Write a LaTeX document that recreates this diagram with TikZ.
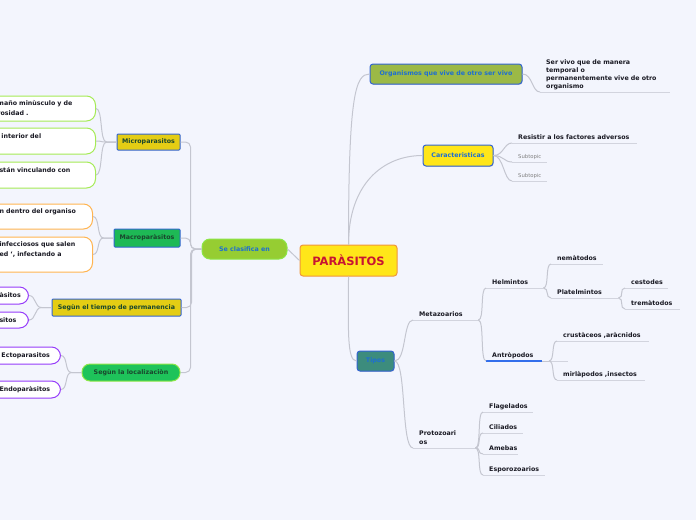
\documentclass[tikz,border=0pt]{standalone}
\usepackage{fontspec}
\setmainfont{DejaVu Sans}
\usetikzlibrary{positioning,shadows}
\definecolor{paper}{RGB}{243,245,253}
\definecolor{linegrey}{RGB}{196,198,208}
\definecolor{ulgrey}{RGB}{210,212,222}
\definecolor{rootyellow}{RGB}{255,230,25}
\definecolor{rootorange}{RGB}{240,150,60}
\definecolor{rootred}{RGB}{200,20,50}
\definecolor{edgeblue}{RGB}{50,100,210}
\definecolor{labelblue}{RGB}{30,110,210}
\definecolor{orggreen}{RGB}{155,185,70}
\definecolor{mustard}{RGB}{228,205,20}
\definecolor{macgreen}{RGB}{30,185,85}
\definecolor{locgreen}{RGB}{30,195,90}
\definecolor{limegreen}{RGB}{150,205,50}
\definecolor{brightlime}{RGB}{140,230,70}
\definecolor{tealtipo}{RGB}{60,140,125}
\definecolor{darkleaf}{RGB}{25,70,45}
\definecolor{inkdark}{RGB}{25,25,35}
\definecolor{leafgreen}{RGB}{165,235,85}
\definecolor{leaforange}{RGB}{255,180,80}
\definecolor{leafpurple}{RGB}{150,60,250}
\definecolor{antblue}{RGB}{50,110,235}
\newcommand{\smallbf}{\fontsize{6.3}{10}\selectfont\bfseries}
\hyphenpenalty=10000
\hbadness=10000

\begin{document}
\begin{tikzpicture}[x=1pt,y=-1pt]
  \tikzstyle{con}=[draw=linegrey,line width=1pt]
  \tikzstyle{uline}=[draw=ulgrey,line width=1pt]
  \tikzstyle{root}=[draw=rootorange,line width=1pt,fill=rootyellow,rounded corners=3pt,
    minimum width=97pt,minimum height=31pt,text=rootred,font=\fontsize{11.5}{13}\selectfont\bfseries]
  \tikzstyle{box}=[draw=edgeblue,line width=1pt,rounded corners=1pt,inner sep=0pt,font=\smallbf,text=darkleaf]
  \tikzstyle{pill}=[draw=brightlime,line width=1pt,rounded corners=8pt,inner sep=0pt,font=\smallbf]
  \tikzstyle{main}=[box,rounded corners=3pt,text=labelblue,
    drop shadow={opacity=0.3,shadow xshift=0.6pt,shadow yshift=-0.8pt}]
  \tikzstyle{leaf}=[line width=1pt,rounded corners=9pt,fill=white,anchor=east,inner xsep=14pt,
    inner ysep=0pt,align=left,font=\smallbf,text=inkdark]
  \tikzstyle{tp}=[anchor=south west,inner xsep=6pt,inner ysep=1.5pt,text depth=1.5pt,
    align=left,font=\smallbf,text=inkdark]
  \tikzstyle{sub}=[tp,font=\fontsize{5.3}{7}\selectfont,text=gray]

  \useasboundingbox (0,0) rectangle (696,520);
  \fill[paper] (0,0) rectangle (696,520);
  \clip (0,0) rectangle (696,520);

  % centre and left side
  \node[root] (par) at (348.5,260.5) {PARÀSITOS};
  \node[pill,fill=limegreen,text=labelblue,minimum width=85pt,minimum height=20pt] (clas) at (244.5,249) {Se clasifica en};
  \node[box,fill=mustard,minimum width=63pt,minimum height=16pt] (micro) at (148.5,142) {Microparasitos};
  \node[box,fill=macgreen,minimum width=66pt,minimum height=18pt] (macro) at (147,238) {Macroparàsitos};
  \node[box,fill=mustard,minimum width=129pt,minimum height=17pt] (tiempo) at (116.5,307.5) {Segùn el tiempo de permanencia};
  \node[pill,fill=locgreen,text=darkleaf,minimum width=98pt,minimum height=17pt] (loc) at (131,372.5) {Segùn la localizaciòn};

  \node[leaf,draw=leafgreen,text width=84pt,minimum height=25pt] (mi1) at (96,108.5) {maño minùsculo y de\\rosidad .};
  \node[leaf,draw=leafgreen,text width=80pt,minimum height=26pt] (mi2) at (96,141) {interior del\\\mbox{}};
  \node[leaf,draw=leafgreen,text width=82pt,minimum height=26pt] (mi3) at (96,175) {stán vinculando con\\\mbox{}};
  \node[leaf,draw=leaforange,text width=79pt,minimum height=25pt] (ma1) at (93,216.5) {n dentro del organiso\\\mbox{}};
  \node[leaf,draw=leaforange,text width=79pt,minimum height=35pt] (ma2) at (93,254.5) {infecciosos que salen\\ed {\char"60}, infectando a\\\mbox{}};
  \node[leaf,draw=leafpurple,text width=15pt,minimum height=17pt] (ti1) at (29,295.5) {àsitos};
  \node[leaf,draw=leafpurple,text width=15pt,minimum height=16pt] (ti2) at (29,320) {sitos};
  \node[leaf,draw=leafpurple,text width=45pt,minimum height=17pt] (lo1) at (61,355.5) {Ectoparasitos};
  \node[leaf,draw=leafpurple,text width=47pt,minimum height=17pt] (lo2) at (61,389.5) {Endoparàsitos};

  % right side
  \node[main,fill=orggreen,minimum width=152pt,minimum height=20pt] (org) at (446,74) {Organismos que vive de otro ser vivo};
  \node[main,fill=rootyellow,minimum width=70pt,minimum height=21pt] (car) at (458,155.5) {Caracteristicas};
  \node[main,fill=tealtipo,minimum width=37pt,minimum height=20pt] (tipos) at (375.5,361) {Tipos};

  \node[tp,text width=118pt,text depth=25.5pt,font=\fontsize{6.3}{8}\selectfont\bfseries] (def) at (540,92) {Ser vivo que de manera\\temporal o\\permanentemente vive de otro\\organismo};
  \node[tp,text width=113pt] (res) at (512,143) {Resistir a los factores adversos};
  \node[sub,text width=23pt] (st1) at (512,162) {Subtopic};
  \node[sub,text width=23pt] (st2) at (512,181) {Subtopic};
  \node[tp,text width=53pt] (meta) at (413,320) {Metazoarios};
  \node[tp,text width=45pt] (helm) at (486,288) {Helmintos};
  \node[tp,text width=40pt] (nema) at (551,264) {nemàtodos};
  \node[tp,text width=55pt] (plat) at (551,298) {Platelmintos};
  \node[tp,text width=31pt] (ces) at (625,288) {cestodes};
  \node[tp,text width=43pt] (tre) at (625,309) {tremàtodos};
  \node[tp,text width=44pt] (ant) at (486,361) {Antròpodos};
  \node[tp,text width=7pt] (antx) at (549,361) {};
  \node[tp,text width=80pt] (crus) at (557,341) {crustàceos ,aràcnidos};
  \node[tp,text width=76pt] (mir) at (557,380) {mirlàpodos ,insectos};
  \node[tp,text width=50pt,text depth=10.5pt,font=\fontsize{6.3}{9}\selectfont\bfseries] (proto) at (413,448) {Protozoari\\os};
  \node[tp,text width=38pt] (fla) at (483,412) {Flagelados};
  \node[tp,text width=28pt] (cil) at (483,433) {Ciliados};
  \node[tp,text width=23pt] (ame) at (483,454) {Amebas};
  \node[tp,text width=50pt] (esp) at (483,475) {Esporozoarios};

  \foreach \t in {def,res,st1,st2,meta,helm,nema,plat,ces,tre,antx,crus,mir,proto,fla,cil,ame,esp}
    \draw[uline] (\t.south west) -- (\t.south east);
  \draw[antblue,line width=1.3pt] (ant.south west) -- (ant.south east);

  % connectors
  \foreach \b in {micro,macro,tiempo,loc}
    \draw[con,rounded corners=5pt] (\b.east) -- ++(10,0) |- (clas.west);
  \draw[con] (clas.east) -- (par.west);
  \foreach \l in {mi1,mi2,mi3}
    \draw[con] (micro.west) -- ++(-10,0) .. controls +(-7,0) and +(7,0) .. (\l.east);
  \foreach \l in {ma1,ma2}
    \draw[con] (macro.west) -- ++(-10,0) .. controls +(-7,0) and +(7,0) .. (\l.east);
  \foreach \l in {ti1,ti2}
    \draw[con] (tiempo.west) -- ++(-10,0) .. controls +(-7,0) and +(7,0) .. (\l.east);
  \foreach \l in {lo1,lo2}
    \draw[con] (loc.west) -- ++(-10,0) .. controls +(-7,0) and +(7,0) .. (\l.east);

  \draw[con] (par.north) .. controls +(0,-150) and +(-14,0) .. (org.west);
  \draw[con] (par.north) .. controls +(0,-60) and +(-40,0) .. (car.west);
  \draw[con] (par.south) .. controls +(0,50) and +(-10,0) .. (tipos.west);
  \draw[con] (org.east) .. controls +(10,0) and +(-8,0) .. (def.south west);
  \foreach \t in {res,st1,st2}
    \draw[con] (car.east) .. controls +(10,0) and +(-8,0) .. (\t.south west);
  \draw[con] (tipos.east) .. controls +(12,0) and +(-10,0) .. (meta.south west);
  \draw[con] (tipos.east) .. controls +(12,0) and +(-12,0) .. (proto.south west);
  \foreach \t in {helm,ant}
    \draw[con] (meta.south east) .. controls +(6,0) and +(-6,0) .. (\t.south west);
  \foreach \t in {nema,plat}
    \draw[con] (helm.south east) .. controls +(6,0) and +(-6,0) .. (\t.south west);
  \foreach \t in {ces,tre}
    \draw[con] (plat.south east) .. controls +(6,0) and +(-6,0) .. (\t.south west);
  \draw[con] (ant.south east) -- (antx.south west);
  \foreach \t in {crus,mir}
    \draw[con] (antx.south west) .. controls +(6,0) and +(-6,0) .. (\t.south west);
  \foreach \t in {fla,cil,ame,esp}
    \draw[con] (proto.south east) .. controls +(6,0) and +(-6,0) .. (\t.south west);
\end{tikzpicture}
\end{document}
